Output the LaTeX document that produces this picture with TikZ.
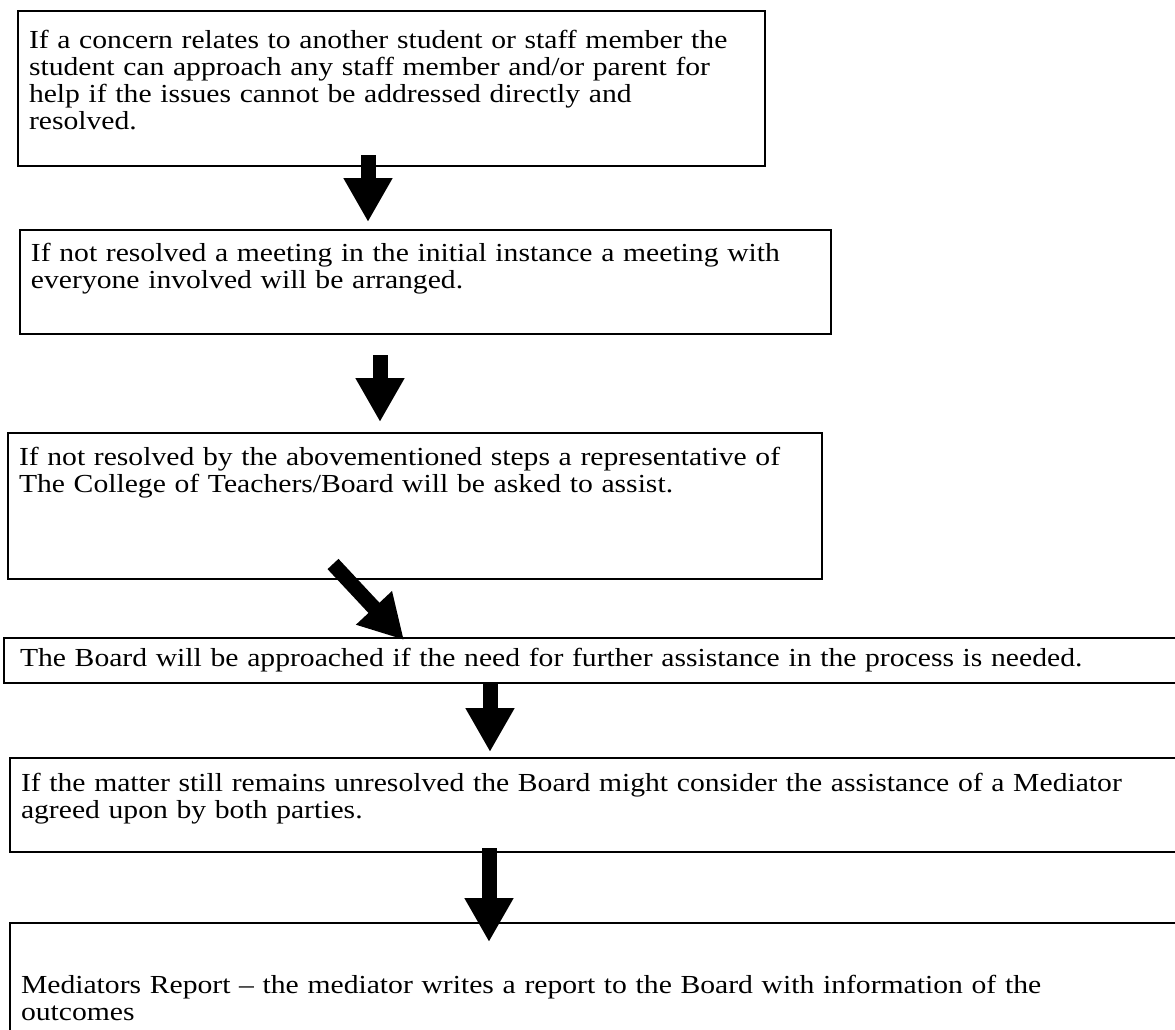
\documentclass[tikz,border=0pt]{standalone}
\usepackage{fontspec}
\setmainfont{Liberation Serif}
\newfontfamily\boxfont[FakeStretch=1.14, Ligatures=TeX]{Liberation Serif}
\usepackage{tikz}
\usetikzlibrary{arrows.meta}
\tikzstyle{stepbox} = [rectangle, draw=black, line width=1pt, anchor=north west, align=left, inner xsep=5.5pt, inner ysep=0pt, font=\boxfont\fontsize{13pt}{13.6pt}\selectfont]
\tikzstyle{bigarrow} = [line width=7.5pt, -{Triangle[width=23pt,length=22pt]}]

\begin{document}
\begin{tikzpicture}[x=0.5pt, y=-0.5pt]
\clip (0,0) rectangle (1175,1030);

\node (concern) [stepbox, text width=362.5pt, text height=18.5pt, text depth=59pt] at (17,10) {If a concern relates to another student or staff member the\\ student can approach any staff member and/or parent for\\ help if the issues cannot be addressed directly and\\ resolved.};
\node (meeting) [stepbox, text width=394.5pt, text height=15.5pt, text depth=36.5pt] at (19,229) {If not resolved a meeting in the initial instance a meeting with\\ everyone involved will be arranged.};
\node (college) [stepbox, text width=396pt, text height=16pt, text depth=57pt] at (7,432) {If not resolved by the abovementioned steps a representative of\\ The College of Teachers/Board will be asked to assist.};
\node (board) [stepbox, inner xsep=8pt, text width=572.5pt, text height=14pt, text depth=8.5pt] at (3,637) {The Board will be approached if the need for further assistance in the process is needed.};
\node (mediator) [stepbox, text width=574.5pt, text height=16.5pt, text depth=30.5pt] at (9,757) {If the matter still remains unresolved the Board might consider the assistance of a Mediator\\ agreed upon by both parties.};
\node (report) [stepbox, text width=574.5pt, text height=35pt, text depth=34pt] at (9,922) {Mediators Report – the mediator writes a report to the Board with information of the\\ outcomes};

\draw [bigarrow] ([shift={(351,-12)}]concern.south west) -- ([shift={(349,-7)}]meeting.north west);
\draw [bigarrow] ([shift={(361,20)}]meeting.south west) -- ([shift={(373,-10)}]college.north west);
\draw [bigarrow] ([shift={(326,-16)}]college.south west) -- ([shift={(401,3)}]board.north west);
\draw [bigarrow] ([shift={(487,-2)}]board.south west) -- ([shift={(481,-5)}]mediator.north west);
\draw [bigarrow] ([shift={(480,-5)}]mediator.south west) -- ([shift={(480,20)}]report.north west);

\end{tikzpicture}
\end{document}
